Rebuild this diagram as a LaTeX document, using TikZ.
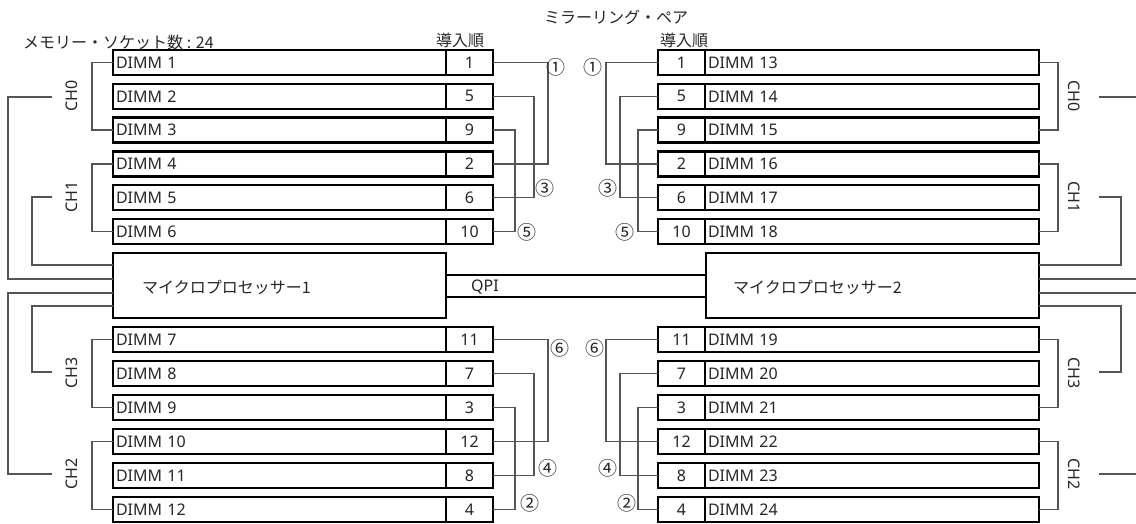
\documentclass[tikz,border=0pt]{standalone}
\usepackage{fontspec}
\setmainfont{Noto Sans CJK JP}
\newfontfamily\latf{Noto Sans}
\begin{document}
\begin{tikzpicture}[x=1pt,y=-1pt,
  txt/.style={text=black!85,font=\fontsize{16pt}{18pt}\selectfont,inner sep=0pt},
  ltxt/.style={text=black!85,font=\latf\fontsize{16pt}{18pt}\selectfont,inner sep=0pt},
  cell/.style={draw=black,line width=2.4pt,minimum height=25pt,inner sep=0pt,outer sep=0pt,anchor=north west,ltxt},
  namecell/.style={cell,text width=327pt,inner xsep=3pt,align=left},
  numcell/.style={cell,minimum width=47pt,align=center},
  conn/.style={draw={rgb,255:red,85;green,85;blue,85},line width=1.3pt},
  circ/.style={txt,font=\fontsize{19pt}{21pt}\selectfont},
  chlab/.style={ltxt},
  proc/.style={draw=black,line width=2.4pt,inner sep=0pt,outer sep=0pt,anchor=north west,minimum height=65pt,txt},
  qpiline/.style={draw=black,line width=2pt}]
\useasboundingbox (0,0) rectangle (1136,523);
% headers
\node[txt,anchor=west] (hdrL) at (23,42) {メモリー・ソケット数 : 24};
\node[txt] (ordL) at (460,40) {導入順};
\node[txt] (ordR) at (684,40) {導入順};
\node[txt] (mir) at (616,17) {ミラーリング・ペア};
% top rows
\foreach \n [count=\k] in {1,5,9,2,6,10} {
  \pgfmathsetmacro{\yy}{50+(\k-1)*33.8}
  \pgfmathtruncatemacro{\rr}{\k+12}
  \node[namecell] (LA\k) at (113,\yy) {DIMM \k};
  \node[numcell] (LB\k) at (446,\yy) {\n};
  \node[numcell] (RB\rr) at (658,\yy) {\n};
  \node[namecell,text width=328pt] (RA\rr) at (705,\yy) {DIMM \rr};
}
% bottom rows
\foreach \n [count=\k] in {11,7,3,12,8,4} {
  \pgfmathsetmacro{\yy}{327+(\k-1)*34}
  \pgfmathtruncatemacro{\ll}{\k+6}
  \pgfmathtruncatemacro{\rr}{\k+18}
  \node[namecell] (LA\ll) at (113,\yy) {DIMM \ll};
  \node[numcell] (LB\ll) at (446,\yy) {\n};
  \node[numcell] (RB\rr) at (658,\yy) {\n};
  \node[namecell,text width=328pt] (RA\rr) at (705,\yy) {DIMM \rr};
}
% processors
\node[proc,minimum width=333pt] (P1) at (113,253) {};
\node[txt,anchor=west] (P1t) at (142,287) {マイクロプロセッサー1};
\node[proc,minimum width=333pt] (P2) at (706,253) {};
\node[txt,anchor=west] (P2t) at (733,287) {マイクロプロセッサー2};
% QPI
\coordinate (q1) at (0,275);
\coordinate (q2) at (0,297);
\draw[qpiline] (P1.east |- q1) -- (P2.west |- q1);
\draw[qpiline] (P1.east |- q2) -- (P2.west |- q2);
\node[ltxt] (qpi) at (485,287) {QPI};
% mirroring connectors left
\draw[conn] (LB1.east) -- ++(55,0) |- (LB4.east);
\draw[conn] (LB2.east) -- ++(41,0) |- (LB5.east);
\draw[conn] (LB3.east) -- ++(22,0) |- (LB6.east);
\draw[conn] (LB7.east) -- ++(55,0) |- (LB10.east);
\draw[conn] (LB8.east) -- ++(41,0) |- (LB11.east);
\draw[conn] (LB9.east) -- ++(22,0) |- (LB12.east);
% mirroring connectors right
\draw[conn] (RB13.west) -- ++(-52,0) |- (RB16.west);
\draw[conn] (RB14.west) -- ++(-38,0) |- (RB17.west);
\draw[conn] (RB15.west) -- ++(-20,0) |- (RB18.west);
\draw[conn] (RB19.west) -- ++(-52,0) |- (RB22.west);
\draw[conn] (RB20.west) -- ++(-38,0) |- (RB23.west);
\draw[conn] (RB21.west) -- ++(-20,0) |- (RB24.west);
% circled numbers
\node[circ] (c1L) at (556,67) {①};
\node[circ] (c1R) at (593,67) {①};
\node[circ] (c3L) at (545,188) {③};
\node[circ] (c3R) at (608,188) {③};
\node[circ] (c5L) at (527,232) {⑤};
\node[circ] (c5R) at (625,232) {⑤};
\node[circ] (c6L) at (560,348) {⑥};
\node[circ] (c6R) at (595,348) {⑥};
\node[circ] (c4L) at (548,468) {④};
\node[circ] (c4R) at (608,468) {④};
\node[circ] (c2L) at (530,503) {②};
\node[circ] (c2R) at (627,503) {②};
% channel brackets left
\draw[conn] (LA1.west) -- ++(-21,0) |- (LA3.west);
\draw[conn] (LA4.west) -- ++(-21,0) |- (LA6.west);
\draw[conn] (LA7.west) -- ++(-21,0) |- (LA9.west);
\draw[conn] (LA10.west) -- ++(-21,0) |- (LA12.west);
\node[chlab,rotate=90] (ch0L) at (72,96) {CH0};
\node[chlab,rotate=90] (ch1L) at (72,197) {CH1};
\node[chlab,rotate=90] (ch3L) at (72,373) {CH3};
\node[chlab,rotate=90] (ch2L) at (72,474) {CH2};
% channel brackets right
\draw[conn] (RA13.east) -- ++(19,0) |- (RA15.east);
\draw[conn] (RA16.east) -- ++(19,0) |- (RA18.east);
\draw[conn] (RA19.east) -- ++(19,0) |- (RA21.east);
\draw[conn] (RA22.east) -- ++(19,0) |- (RA24.east);
\node[chlab,rotate=-90] (ch0R) at (1074,96) {CH0};
\node[chlab,rotate=-90] (ch1R) at (1074,197) {CH1};
\node[chlab,rotate=-90] (ch3R) at (1074,373) {CH3};
\node[chlab,rotate=-90] (ch2R) at (1074,474) {CH2};
% feed lines left
\coordinate (f0) at (52,97);
\coordinate (f1) at (52,197);
\coordinate (f3) at (52,372);
\coordinate (f2) at (52,474);
\coordinate (p265) at (0,265);
\coordinate (p279) at (0,279);
\coordinate (p293) at (0,293);
\coordinate (p306) at (0,306);
\draw[conn] (f0) -- (8,97) |- (P1.west |- p279);
\draw[conn] (f1) -- (32,197) |- (P1.west |- p265);
\draw[conn] (P1.west |- p306) -- (32,306) |- (f3);
\draw[conn] (P1.west |- p293) -- (8,293) |- (f2);
% feed lines right
\coordinate (g0) at (1099,97);
\coordinate (g1) at (1099,197);
\coordinate (g3) at (1099,372);
\coordinate (g2) at (1099,474);
\draw[conn] (g0) -- (1136,97);
\draw[conn] (g1) -- (1121,197) |- (P2.east |- p265);
\draw[conn] (P2.east |- p279) -- (1136,279);
\draw[conn] (P2.east |- p293) -- (1136,293);
\draw[conn] (P2.east |- p306) -- (1121,306) |- (g3);
\draw[conn] (g2) -- (1136,474);
\end{tikzpicture}
\end{document}
